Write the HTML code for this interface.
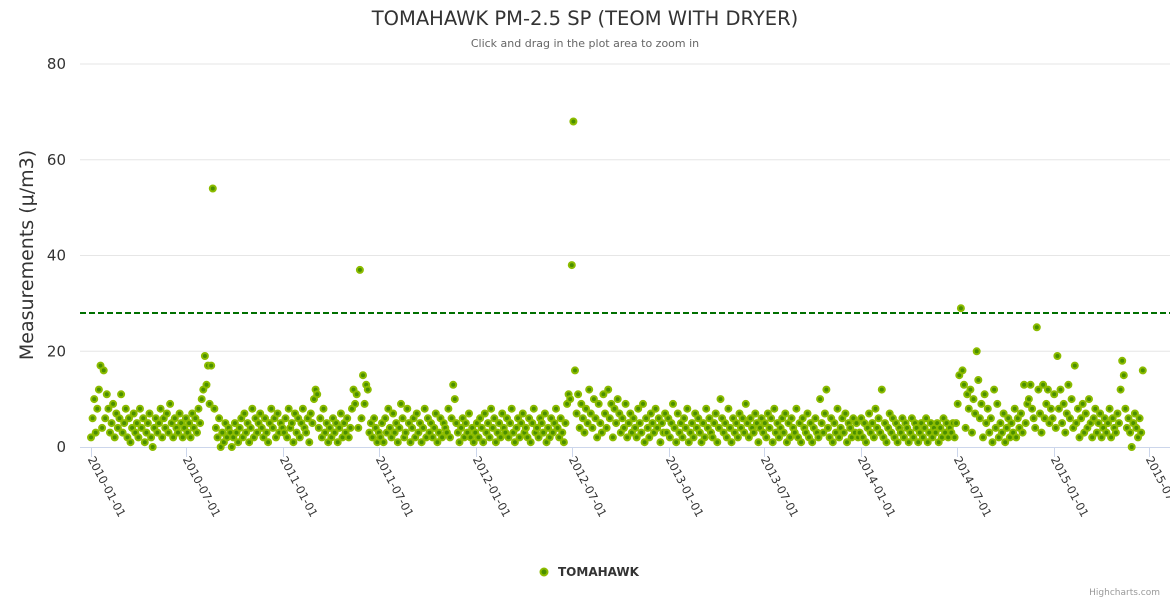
<!DOCTYPE html>
<html><head><meta charset="utf-8">
<style>
html,body{margin:0;padding:0;background:#fff;}
svg{display:block;font-family:"DejaVu Sans",sans-serif;}
</style></head>
<body>
<svg id="chart" width="1170" height="600">
<text x="585" y="25" text-anchor="middle" font-size="19.5" fill="#333">TOMAHAWK PM-2.5 SP (TEOM WITH DRYER)</text>
<text x="585" y="47" text-anchor="middle" font-size="11" fill="#666">Click and drag in the plot area to zoom in</text>
<text transform="translate(33,255) rotate(-90)" text-anchor="middle" font-size="19" fill="#333">Measurements (μ/m3)</text>
<g id="grid"></g>
<g id="xaxis"></g>
<g id="points"></g>
<g>
<circle cx="544" cy="572" r="3.5" fill="#4a8f00" stroke="#8cbc00" stroke-width="2"/>
<text x="558" y="576" font-size="12" font-weight="bold" fill="#333">TOMAHAWK</text>
</g>
<text x="1160" y="595" text-anchor="end" font-size="9" fill="#999">Highcharts.com</text>
</svg>
<script>
const startDate = "2010-01-01";
const stepDays = 3;
const yTicks = [0, 20, 40, 60, 80];
const xTickLabels = ["2010-01-01","2010-07-01","2011-01-01","2011-07-01","2012-01-01","2012-07-01","2013-01-01","2013-07-01","2014-01-01","2014-07-01","2015-01-01","2015-07-01"];
const thresholdValue = 28;
const values = [
2,6,10,3,8,12,17,4,16,6,11,8,3,5,9,2,7,4,6,11,3,5,8,2,6,1,4,7,3,5,2,8,4,6,1,3,5,7,2,0,4,6,3,5,8,2,6,4,7,3,9,5,2,6,4,3,7,5,2,4,6,
3,5,2,7,4,6,3,8,5,10,12,19,13,17,9,17,54,8,4,2,6,0,3,1,5,2,4,3,0,2,5,3,1,4,6,2,7,3,5,1,4,8,2,6,3,5,7,4,2,6,3,1,5,8,4,6,2,7,3,5,4,
3,6,2,8,4,5,1,7,3,6,2,5,8,4,3,6,1,7,5,10,12,11,4,6,2,8,3,5,1,4,2,6,3,5,1,4,7,2,5,3,6,2,4,8,12,9,11,4,37,6,15,9,13,12,3,5,2,6,4,1,3,
2,5,1,6,3,8,4,2,7,3,5,1,4,9,6,2,3,8,5,1,4,6,2,7,3,5,1,4,8,2,6,3,5,2,4,7,1,3,6,2,5,4,3,8,2,6,13,10,5,3,1,4,6,2,5,3,7,2,4,1,
3,5,2,6,4,1,7,3,5,2,8,4,6,1,3,5,2,7,4,3,6,2,5,8,3,1,4,6,2,5,7,3,4,2,6,1,5,8,3,4,2,6,5,3,7,1,4,2,6,3,5,8,4,2,6,3,1,5,9,11,
10,38,68,16,7,11,4,9,6,3,8,5,12,7,4,10,6,2,9,5,3,11,7,4,12,6,9,2,8,5,10,7,3,6,4,9,2,5,7,3,6,4,2,8,5,3,9,1,6,4,2,7,5,3,8,4,6,1,5,3,7,
3,6,2,5,9,4,1,7,3,5,2,6,4,8,1,3,5,2,7,4,6,3,1,5,2,8,4,6,3,2,5,7,1,4,10,6,3,5,2,8,4,1,6,3,5,2,7,4,6,3,9,5,2,6,4,3,7,5,1,4,6,
3,5,2,7,4,6,1,8,3,5,2,4,6,3,7,1,5,2,6,4,3,8,2,5,1,6,4,3,7,2,5,1,4,6,3,2,10,5,3,7,12,4,2,6,1,5,3,8,2,4,6,3,7,1,5,4,2,6,3,5,2,
3,6,2,5,1,4,7,3,5,2,8,4,6,3,12,2,5,1,4,7,3,6,2,5,1,4,3,6,2,5,4,1,3,6,2,5,4,1,3,5,2,4,6,1,3,5,2,4,3,5,1,4,2,6,3,5,2,4,3,5,2,
5,9,15,29,16,13,4,11,8,12,3,10,7,20,14,6,9,2,11,5,8,3,6,1,12,4,9,2,5,3,7,1,4,6,2,5,3,8,2,6,4,7,3,13,5,9,10,13,8,6,4,25,12,7,3,13,6,9,12,5,8,
6,11,4,19,8,12,5,9,3,7,13,6,10,4,17,5,8,2,6,9,3,7,4,10,5,2,6,8,3,5,7,2,4,6,3,5,8,2,6,4,3,7,5,12,18,15,8,4,6,3,0,5,7,4,2,6,3,16
];

const NS = "http://www.w3.org/2000/svg";
const X0 = 91, PX_PER_DAY = 0.5272, Y0 = 447, PX_PER_UNIT = 383/80;
const base = Date.UTC(2010,0,1);
function dayOf(s){const p=s.split("-").map(Number);return (Date.UTC(p[0],p[1]-1,p[2])-base)/86400000;}
function xScale(day){return X0 + day*PX_PER_DAY;}
function yScale(v){return Y0 - v*PX_PER_UNIT;}
function mk(tag, attrs, parent){const e=document.createElementNS(NS,tag);for(const k in attrs)e.setAttribute(k,attrs[k]);parent.appendChild(e);return e;}

const grid = document.getElementById("grid");
yTicks.forEach(t=>{
  const y = yScale(t);
  if (t !== 0) {
    const l = mk("line",{x1:80,x2:1170,y1:y,y2:y,stroke:"#e6e6e6","stroke-width":1},grid);
    
    
  }
  const tx = mk("text",{x:66,y:y+5,"text-anchor":"end","font-size":15,fill:"#333"},grid);
  tx.textContent = t;
  
  
});
const th = mk("line",{x1:80,x2:1170,y1:yScale(thresholdValue),y2:yScale(thresholdValue),stroke:"#007000","stroke-width":2,"stroke-dasharray":"6,3"},grid);



const xa = document.getElementById("xaxis");
const al = mk("line",{x1:80,x2:1170,y1:Y0+0.5,y2:Y0+0.5,stroke:"#ccd6eb","stroke-width":1},xa);


xTickLabels.forEach(lbl=>{
  const x = Math.round(xScale(dayOf(lbl)))+0.5;
  const tk = mk("line",{x1:x,x2:x,y1:Y0,y2:Y0+10,stroke:"#ccd6eb","stroke-width":1},xa);
  
  
  const t = mk("text",{transform:`translate(${x-4},${Y0+12}) rotate(62)`,"font-size":11.5,fill:"#333"},xa);
  t.textContent = lbl;
  
  
});

const pts = document.getElementById("points");
values.forEach((v,i)=>{
  const c = mk("circle",{cx:xScale(i*stepDays).toFixed(1),cy:yScale(v).toFixed(1),r:3,fill:"#4a8f00",stroke:"#8cbc00","stroke-width":2},pts);
  
  
});
</script>
</body></html>
